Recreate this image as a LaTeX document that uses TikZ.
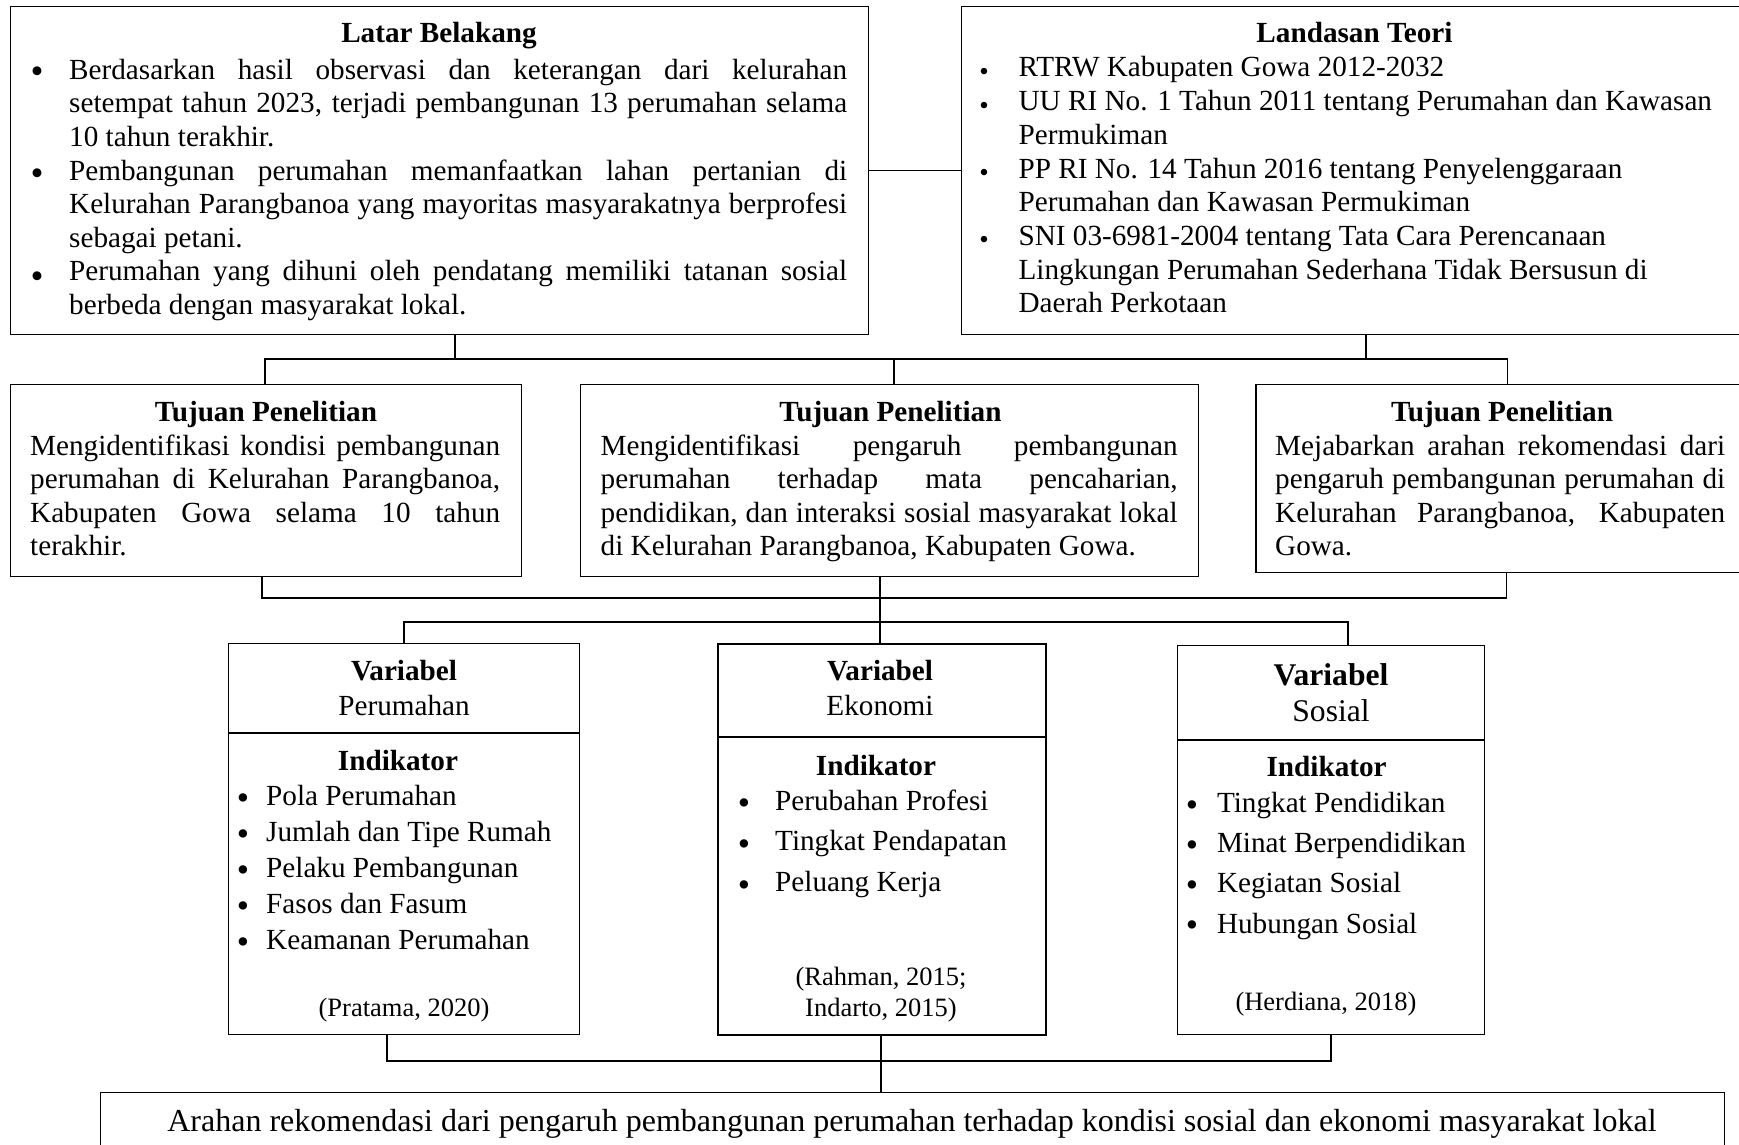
\documentclass[tikz,border=0pt]{standalone}
\usepackage{fontspec}
\setmainfont{Liberation Serif}
\newcommand{\fsm}{\fontsize{29.2pt}{33.5pt}\selectfont}
\newcommand{\fsh}{\fontsize{31.6pt}{36pt}\selectfont}
\newcommand{\fsc}{\fontsize{26.5pt}{31.7pt}\selectfont}
\newcommand{\fsf}{\fontsize{32pt}{36pt}\selectfont}
\newcommand{\blk}[2]{\vtop{\baselineskip=#1\lineskiplimit=-50pt\lineskip=0pt #2}}
\newcommand{\jl}[2]{\hbox to #1pt{#2}}
\tikzset{
  box/.style={draw, line width=1.4pt, inner sep=0pt, anchor=north west},
  conn/.style={line width=1.4pt},
  txt/.style={inner sep=0pt, font=\fsm, anchor=base},
  txtl/.style={inner sep=0pt, font=\fsm, anchor=base west},
  bulA/.style={inner sep=0pt, anchor=center, yshift=-4pt, font=\fontsize{37pt}{37pt}\selectfont},
  bulB/.style={inner sep=0pt, anchor=center, yshift=-3.5pt, font=\fontsize{27pt}{27pt}\selectfont},
  bulC/.style={inner sep=0pt, anchor=center, yshift=-4pt, font=\fontsize{35pt}{35pt}\selectfont},
}
\begin{document}
\begin{tikzpicture}[x=1pt,y=-1pt]
\useasboundingbox (0,0) rectangle (1739,1145);
\fill[white] (0,0) rectangle (1739,1145);

% ---------- top row ----------
\node[box, minimum width=858pt, minimum height=328pt] (lb) at (10,6) {};
\node[box, minimum width=802pt, minimum height=328pt] (lt) at (960.5,6) {};

\node[txt] (lbt) at (439,43) {\bfseries Latar Belakang};
\node[bulA] (lbb1) at (37,70.7) {\textbullet};
\node[bulA] (lbb2) at (37,173.5) {\textbullet};
\node[bulA] (lbb3) at (37,276.5) {\textbullet};
\node[txtl] (lbx) at (69,79.3) {\blk{33.6pt}{%
  \jl{778}{Berdasarkan hasil observasi dan keterangan dari kelurahan}
  \jl{778}{setempat tahun 2023, terjadi pembangunan 13 perumahan selama}
  \hbox{10 tahun terakhir.}
  \jl{778}{Pembangunan perumahan memanfaatkan lahan pertanian di}
  \jl{778}{Kelurahan Parangbanoa yang mayoritas masyarakatnya berprofesi}
  \hbox{sebagai petani.}
  \jl{778}{Perumahan yang dihuni oleh pendatang memiliki tatanan sosial}
  \hbox{berbeda dengan masyarakat lokal.}}};

\node[txt] (ltt) at (1354.5,43) {\bfseries Landasan Teori};
\node[bulB] (ltb1) at (984,71) {\textbullet};
\node[bulB] (ltb2) at (984,104.5) {\textbullet};
\node[bulB] (ltb3) at (984,171.5) {\textbullet};
\node[bulB] (ltb4) at (984,239) {\textbullet};
\node[txtl] (ltx) at (1018.4,77) {\blk{33.7pt}{%
  \hbox{RTRW Kabupaten Gowa 2012-2032}
  \hbox{UU RI No. 1 Tahun 2011 tentang Perumahan dan Kawasan}
  \hbox{Permukiman}
  \hbox{PP RI No. 14 Tahun 2016 tentang Penyelenggaraan}
  \hbox{Perumahan dan Kawasan Permukiman}
  \hbox{SNI 03-6981-2004 tentang Tata Cara Perencanaan}
  \hbox{Lingkungan Perumahan Sederhana Tidak Bersusun di}
  \hbox{Daerah Perkotaan}}};

% ---------- Tujuan row ----------
\node[box, minimum width=511pt, minimum height=192pt] (t1) at (10,384) {};
\node[box, minimum width=618pt, minimum height=192pt] (t2) at (580,384) {};
\node[box, minimum width=505pt, minimum height=188pt] (t3) at (1255.3,384) {};

\node[txt] (t1t) at (266,421.7) {\bfseries Tujuan Penelitian};
\node[txtl] (t1x) at (30,455) {\blk{33.6pt}{%
  \jl{470}{Mengidentifikasi kondisi pembangunan}
  \jl{470}{perumahan di Kelurahan Parangbanoa,}
  \jl{470}{Kabupaten Gowa selama 10 tahun}
  \hbox{terakhir.}}};

\node[txt] (t2t) at (890.5,421.7) {\bfseries Tujuan Penelitian};
\node[txtl] (t2x) at (600.5,455) {\blk{33.6pt}{%
  \jl{577}{Mengidentifikasi pengaruh pembangunan}
  \jl{577}{perumahan terhadap mata pencaharian,}
  \jl{577}{pendidikan, dan interaksi sosial masyarakat lokal}
  \hbox{di Kelurahan Parangbanoa, Kabupaten Gowa.}}};

\node[txt] (t3t) at (1502,421.7) {\bfseries Tujuan Penelitian};
\node[txtl] (t3x) at (1275,455) {\blk{33.6pt}{%
  \jl{450}{Mejabarkan arahan rekomendasi dari}
  \jl{450}{pengaruh pembangunan perumahan di}
  \jl{450}{Kelurahan Parangbanoa, Kabupaten}
  \hbox{Gowa.}}};

% ---------- Variabel boxes ----------
\node[box, minimum width=351pt, minimum height=391pt] (vp) at (228,643) {};
\node[box, minimum width=328pt, minimum height=391pt, line width=2pt] (ve) at (717,643) {};
\node[box, minimum width=307pt, minimum height=389pt] (vs) at (1177,645) {};
\draw[conn] (vp.west |- 0,733) coordinate (vpd) -- (vp.east |- vpd);
\draw[conn, line width=2pt] (ve.west |- 0,737) coordinate (ved) -- (ve.east |- ved);
\draw[conn] (vs.west |- 0,740) coordinate (vsd) -- (vs.east |- vsd);

% Perumahan
\node[txt] (vph) at (404,680) {\bfseries Variabel};
\node[txt] (vpn) at (404,715) {Perumahan};
\node[txt] (vpi) at (398,770) {\bfseries Indikator};
\node[bulC] (vpb1) at (243,798) {\textbullet};
\node[bulC] (vpb2) at (243,834) {\textbullet};
\node[bulC] (vpb3) at (243,870) {\textbullet};
\node[bulC] (vpb4) at (243,906) {\textbullet};
\node[bulC] (vpb5) at (243,942) {\textbullet};
\node[txtl] (vpx) at (266,805) {\blk{36.1pt}{%
  \hbox{Pola Perumahan}
  \hbox{Jumlah dan Tipe Rumah}
  \hbox{Pelaku Pembangunan}
  \hbox{Fasos dan Fasum}
  \hbox{Keamanan Perumahan}}};
\node[txt, font=\fsc] (vpc) at (404,1016.7) {(Pratama, 2020)};

% Ekonomi
\node[txt] (veh) at (880,680) {\bfseries Variabel};
\node[txt] (ven) at (880,715) {Ekonomi};
\node[txt] (vei) at (876,775) {\bfseries Indikator};
\node[bulC] (veb1) at (744,803) {\textbullet};
\node[bulC] (veb2) at (744,843.7) {\textbullet};
\node[bulC] (veb3) at (744,884.7) {\textbullet};
\node[txtl] (vex) at (775,810) {\blk{40.85pt}{%
  \hbox{Perubahan Profesi}
  \hbox{Tingkat Pendapatan}
  \hbox{Peluang Kerja}}};
\node[txt, font=\fsc] (vec1) at (881,985) {(Rahman, 2015;};
\node[txt, font=\fsc] (vec2) at (881,1016.7) {Indarto, 2015)};

% Sosial
\node[txt, font=\fsh] (vsh) at (1331,685.7) {\bfseries Variabel};
\node[txt, font=\fsh] (vsn) at (1331,721.7) {Sosial};
\node[txt] (vsi) at (1326.6,776.7) {\bfseries Indikator};
\node[bulC] (vsb1) at (1192,804.5) {\textbullet};
\node[bulC] (vsb2) at (1192,844.8) {\textbullet};
\node[bulC] (vsb3) at (1192,884.8) {\textbullet};
\node[bulC] (vsb4) at (1192,924.8) {\textbullet};
\node[txtl] (vsx) at (1216.8,812.7) {\blk{40.1pt}{%
  \hbox{Tingkat Pendidikan}
  \hbox{Minat Berpendidikan}
  \hbox{Kegiatan Sosial}
  \hbox{Hubungan Sosial}}};
\node[txt, font=\fsc] (vsc) at (1326,1010) {(Herdiana, 2018)};

% ---------- final box ----------
\node[box, minimum width=1624pt, minimum height=80pt] (fin) at (100,1091.7) {};
\node[txt, font=\fsf] (fint) at (912,1131.7) {Arahan rekomendasi dari pengaruh pembangunan perumahan terhadap kondisi sosial dan ekonomi masyarakat lokal};

% ---------- connectors ----------
\draw[conn] (lb.east) -- (lt.west);
\coordinate (j1) at (455,359);
\coordinate (j2) at (1366,359);
\coordinate (k1) at (265,359);
\coordinate (k2) at (894,359);
\coordinate (k3) at (1507.6,359);
\draw[conn] (lb.south -| j1) -- (j1);
\draw[conn] (lt.south -| j2) -- (j2);
\draw[conn] (t1.north -| k1) -- (k1) -- (k3) -- (t3.north -| k3);
\draw[conn] (k2) -- (t2.north -| k2);

\coordinate (m1) at (262,598);
\coordinate (m2) at (880,598);
\coordinate (m3) at (1506.5,598);
\draw[conn] (t1.south -| m1) -- (m1) -- (m3) -- (t3.south -| m3);
\draw[conn] (t2.south -| m2) -- (ve.north -| m2);

\coordinate (n1) at (404,622);
\coordinate (n3) at (1348,622);
\draw[conn, line width=2pt] (vp.north -| n1) -- (n1) -- (n3) -- (vs.north -| n3);

\coordinate (p1) at (387,1061);
\coordinate (p2) at (881,1061);
\coordinate (p3) at (1331,1061);
\draw[conn] (vp.south -| p1) -- (p1) -- (p3) -- (vs.south -| p3);
\draw[conn] (ve.south -| p2) -- (fin.north -| p2);
\end{tikzpicture}
\end{document}
